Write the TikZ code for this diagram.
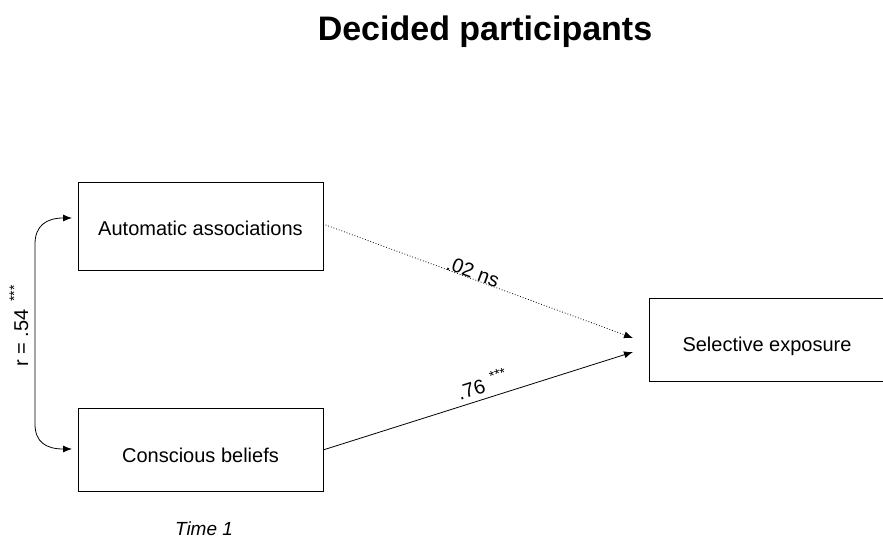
\documentclass[tikz,border=0pt]{standalone}
\usepackage{fontspec}
\setmainfont{Liberation Sans}
\usetikzlibrary{arrows.meta}
\newcommand{\stars}{\hspace{2pt}\raisebox{0.45em}{\fontsize{14}{14}\selectfont ***}}
\begin{document}
\begin{tikzpicture}[x=1pt,y=-1pt,
  varbox/.style={draw, line width=0.8pt, inner sep=0pt, anchor=north west},
  lbl/.style={font=\fontsize{20}{24}\selectfont, inner sep=1pt},
  tip/.style={-{Latex[length=9pt,width=7pt]}},
  conn/.style={line width=0.8pt}]
\useasboundingbox (0,0) rectangle (883,538);
% title
\node[font=\fontsize{34}{40}\bfseries\selectfont] (title) at (485,32) {Decided participants};
% variables
\node[varbox, minimum width=245pt, minimum height=88pt] (auto) at (78,182) {};
\node[lbl] (autot) at (200.5,228) {Automatic associations};
\node[varbox, minimum width=245pt, minimum height=83pt] (cons) at (78,408) {};
\node[lbl] (const) at (200.5,455) {Conscious beliefs};
\node[varbox, minimum width=240pt, minimum height=83pt] (sel) at (649,298) {};
\node[lbl] (selt) at (767,346) {Selective exposure};
% connection points
\coordinate (a1) at (323,224);
\coordinate (a2) at (633,338);
\coordinate (c1) at (323,450);
\coordinate (c2) at (633,352);
\coordinate (t1) at (72,218);
\coordinate (t2) at (72,449);
% paths
\draw[conn, dotted, tip] (a1) -- (a2);
\draw[conn, tip] (c1) -- (c2);
\draw[conn, {Latex[length=9pt,width=7pt]}-{Latex[length=9pt,width=7pt]}]
  (t1) .. controls (46,218) and (35,226) .. (35,244) -- (35,424)
  .. controls (35,442) and (46,449) .. (t2);
% coefficients
\node[lbl, rotate=-20.2] (l1) at (473,272) {.02 ns};
\node[lbl, rotate=17.5] (l2) at (482,384) {.76 \stars};
\node[lbl, rotate=90] (l3) at (19,326) {r = .54 \stars};
\node[font=\fontsize{19}{23}\itshape\selectfont] (time) at (204,529) {Time 1};
\end{tikzpicture}
\end{document}
